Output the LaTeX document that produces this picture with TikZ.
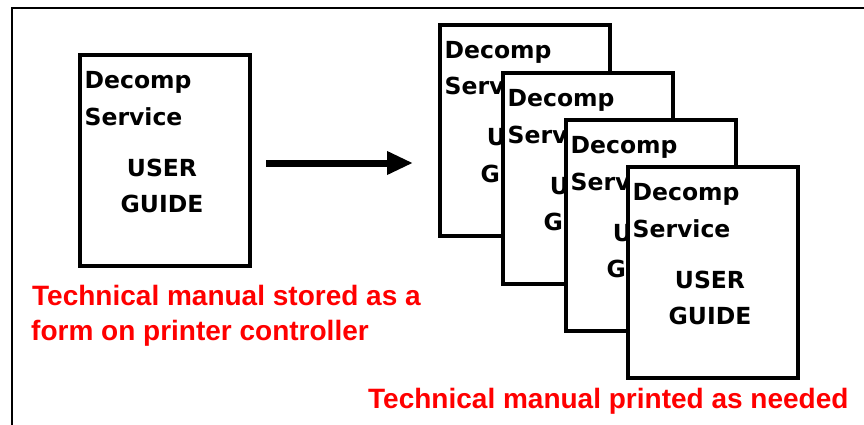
\documentclass[tikz,border=0pt]{standalone}
\usepackage{fontspec}
\setmainfont{DejaVu Sans}
\newfontfamily\redfont{Liberation Sans}
\usetikzlibrary{arrows.meta}

\tikzset{
  docbox/.style={draw=black, line width=4pt, fill=white, minimum width=170pt,
    minimum height=211pt, anchor=north west, inner sep=0pt, outer sep=0pt},
  boxtxt/.style={inner sep=0pt, text=black, font=\fontsize{23.5}{27}\selectfont\bfseries},
  redtxt/.style={inner sep=0pt, anchor=base west, text=red,
    font=\redfont\fontsize{28}{33}\selectfont\bfseries},
  framerule/.style={line width=2.5pt, draw=black},
  bigarrow/.style={line width=7pt, -{Triangle[length=26pt,width=22pt]}}
}

\newcommand\docpage[3]{%
  \node[docbox] (#1) at (#2,#3) {};
  \node[boxtxt, anchor=base west] (#1-a) at ([shift={(4.5,33.5)}]#1.north west) {Decomp};
  \node[boxtxt, anchor=base west] (#1-b) at ([shift={(4.5,70)}]#1.north west) {Service};
  \node[boxtxt, anchor=base] (#1-c) at ([shift={(82,121)}]#1.north west) {USER};
  \node[boxtxt, anchor=base] (#1-d) at ([shift={(82,157)}]#1.north west) {GUIDE};
}

\begin{document}
\begin{tikzpicture}[x=1pt,y=-1pt]
\useasboundingbox (0,0) rectangle (864,425);
\fill[white] (0,0) rectangle (864,425);

% outer frame (left and top edges)
\draw[framerule] (12,425) -- (12,8) -- (864,8);

% stored form
\docpage{L}{80}{55}

% printed copies
\docpage{P1}{440}{25}
\docpage{P2}{503}{73}
\docpage{P3}{566}{120}
\docpage{P4}{628}{167}

% arrow
\coordinate (arrs) at (266,163);
\coordinate (arre) at (413,163);
\draw[bigarrow] (arrs) -- (arre);

% captions
\node[redtxt] (cap1) at (32,305) {Technical manual stored as a};
\node[redtxt] (cap2) at (31,340) {form on printer controller};
\node[redtxt] (cap3) at (368,408) {Technical manual printed as needed};
\end{tikzpicture}
\end{document}
